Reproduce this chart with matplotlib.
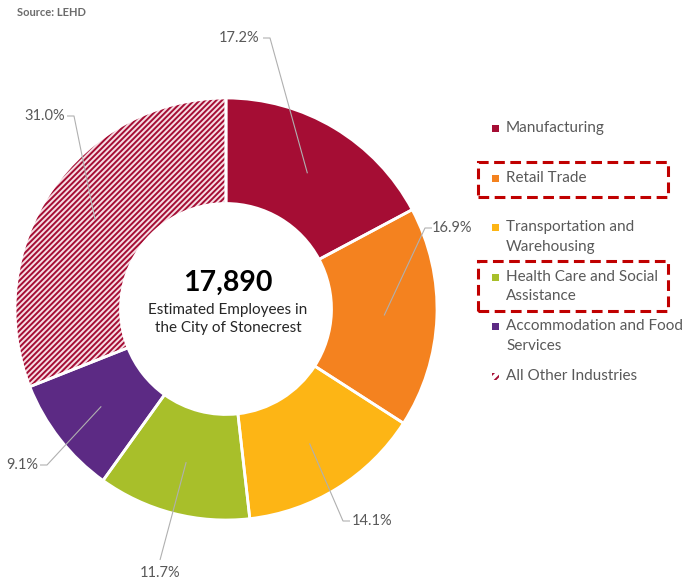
import numpy as np
import matplotlib.pyplot as plt
from matplotlib.patches import Rectangle

plt.rcParams['font.family'] = ['Lato', 'DejaVu Sans']
plt.rcParams['hatch.linewidth'] = 1.4

# industry shares (%) of estimated employees, clockwise from 12 o'clock
industries = ['Manufacturing', 'Retail Trade', 'Transportation and\nWarehousing',
              'Health Care and Social\nAssistance', 'Accommodation and Food\nServices',
              'All Other Industries']
shares = [17.2, 16.9, 14.1, 11.7, 9.1, 31.0]
total_employees = 17890
highlighted = ['Retail Trade', 'Health Care and Social\nAssistance']

colors = ['#A50D34', '#F4821F', '#FDB515', '#A8BF2A', '#5C2A84', '#F6DDE3']
hatch_color = '#A50D34'
text_grey = '#595959'
line_grey = '#B0B0B0'

W, H = 683, 584
fig = plt.figure(figsize=(W / 100, H / 100), dpi=100)
# one axes covering the figure, data units = pixels from bottom-left
ax = fig.add_axes([0, 0, 1, 1])

cx, cy, R = 226, 275, 211
wedges, _ = ax.pie(shares, colors=colors, startangle=90, counterclock=False,
                   center=(cx, cy), radius=R, frame=True,
                   wedgeprops=dict(width=R * 0.5, linewidth=0))
wedges[-1].set_hatch('//////')
wedges[-1].set_edgecolor(hatch_color)

# white separators drawn on top so the hatch colour stays red
ax.pie(shares, colors=['none'] * len(shares), startangle=90,
       counterclock=False, center=(cx, cy), radius=R, frame=True,
       wedgeprops=dict(width=R * 0.5, linewidth=2, edgecolor='white'))
ax.set_xlim(0, W)
ax.set_ylim(0, H)
ax.set_aspect('equal')
ax.axis('off')

# percentage labels with thin leader lines into each wedge
# (text x, text y, line start x, line start y, elbow length)
label_spots = [
    (239, 546, 263, 546, 7),
    (452, 356, 432, 356, -7),
    (372, 63, 350, 63, -7),
    (160, 11, 160, 24, 0),
    (22, 119, 40, 119, 7),
    (45, 468, 67, 468, 7),
]
cum = 0
for share, (tx, ty, sx, sy, elb) in zip(shares, label_spots):
    mid = np.deg2rad(90 - 3.6 * (cum + share / 2))
    cum += share
    ex, ey = cx + 0.75 * R * np.cos(mid), cy + 0.75 * R * np.sin(mid)
    ax.plot([sx, sx + elb, ex], [sy, sy, ey], color=line_grey, lw=0.8,
            solid_capstyle='butt', zorder=5)
    ax.text(tx, ty, f'{share:.1f}%', ha='center', va='center',
            fontsize=10.5, color=text_grey, zorder=6)

# centre annotation
ax.text(cx + 2, cy + 26, f'{total_employees:,}', ha='center', va='center',
        fontsize=20.5, fontweight='bold', color='black')
ax.text(cx + 2, cy - 10, 'Estimated Employees in\nthe City of Stonecrest',
        ha='center', va='center', fontsize=11, color='#262626', linespacing=1.35)

# legend, one entry every ~50 px, first text line level with the marker
leg_x, leg_top, step = 506, 456, 49.6
for i, (name, c) in enumerate(zip(industries, colors)):
    y = leg_top - i * step
    sq = Rectangle((492, y - 4), 7, 7, facecolor=c, edgecolor='none')
    if name == 'All Other Industries':
        sq.set_facecolor('white')
        sq.set_hatch('////')
        sq.set_edgecolor(hatch_color)
        sq.set_linewidth(0)
    ax.add_patch(sq)
    ax.text(leg_x, y + 7, name, ha='left', va='top', fontsize=11,
            color=text_grey, linespacing=1.5)
    if name in highlighted:
        n_lines = name.count('\n') + 1
        top = y + 16
        bottom = y - 19 - (n_lines - 1) * 15
        ax.add_patch(Rectangle((478, bottom), 190, top - bottom, fill=False,
                               edgecolor='#C00000', lw=2.2,
                               linestyle=(0, (3.5, 1.8))))

fig.text(17 / W, 1 - 12 / H, 'Source: LEHD', ha='left', va='center',
         fontsize=8, fontweight='bold', color='#6b6b6b')

fig.savefig('out.png', dpi=100)
